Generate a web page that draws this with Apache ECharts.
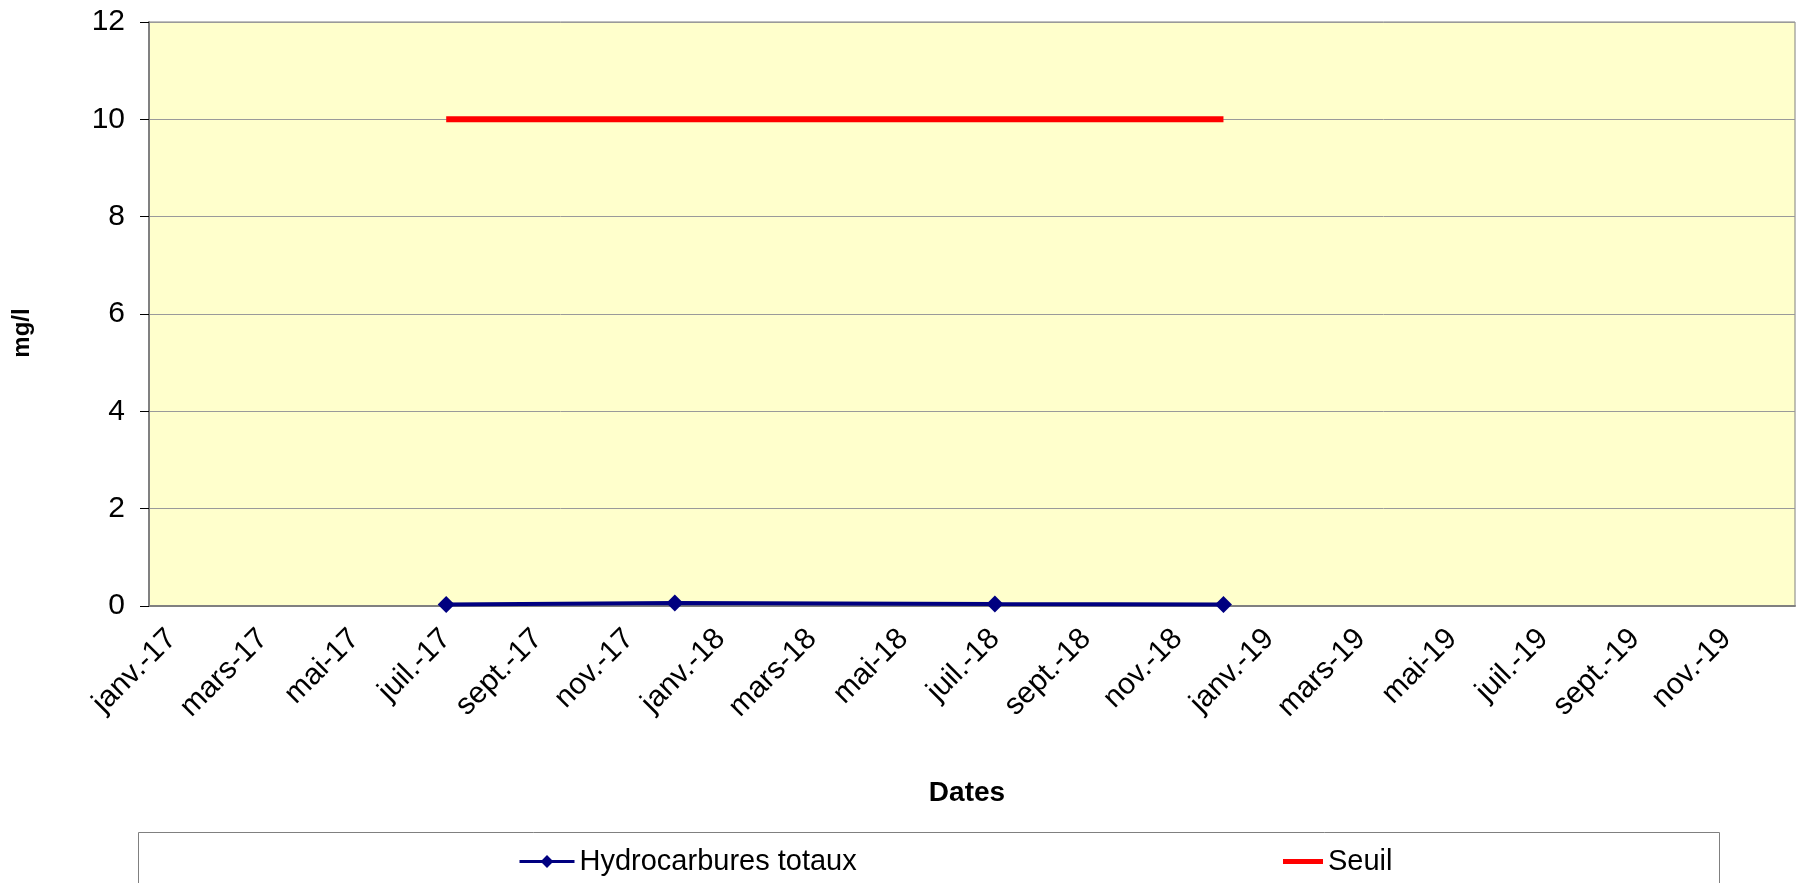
<!DOCTYPE html>
<html>
<head>
<meta charset="utf-8">
<title>Hydrocarbures totaux</title>
<script src="https://cdn.jsdelivr.net/npm/echarts@6/dist/echarts.min.js"></script>
<style>
  html, body { margin: 0; padding: 0; background: #fff; }
  #main { width: 1800px; height: 883px; }
</style>
</head>
<body>
<div id="main"></div>
<script>
// axe des dates : un mois par case
var months = ['janv.', 'févr.', 'mars', 'avr.', 'mai', 'juin', 'juil.', 'août', 'sept.', 'oct.', 'nov.', 'déc.'];
var years = ['17', '18', '19'];
var categories = [];
for (var y = 0; y < years.length; y++) {
  for (var m = 0; m < months.length; m++) {
    categories.push(months[m] + '-' + years[y]);
  }
}

// mesures
var hcDates = ['juil.-17', 'déc.-17', 'juil.-18', 'déc.-18'];
var hcValues = [0.03, 0.06, 0.04, 0.03];

// seuil
var seuilDates = ['juil.-17', 'déc.-18'];
var seuilValues = [10, 10];

var yTicks = [0, 2, 4, 6, 8, 10, 12];

var font = 'Liberation Sans, Arial, sans-serif';

function pairs(xs, vs) {
  var out = [];
  for (var i = 0; i < xs.length; i++) out.push([xs[i], vs[i]]);
  return out;
}

var myChart = echarts.init(document.getElementById('main'));

var option = {
  animation: false,
  textStyle: { fontFamily: font },
  grid: {
    left: 149, right: 5, top: 22, bottom: 277,
    show: true,
    backgroundColor: '#FFFFCC',
    borderColor: '#808080',
    borderWidth: 1
  },
  xAxis: {
    type: 'category',
    data: categories,
    boundaryGap: true,
    axisLine: { lineStyle: { color: '#808080', width: 2 } },
    axisTick: { interval: 0, length: 9, lineStyle: { color: '#000' } },
    axisLabel: {
      interval: 1,
      rotate: 45,
      margin: 28,
      color: '#000',
      fontSize: 30,
      fontFamily: font
    },
    splitLine: { show: false }
  },
  yAxis: {
    type: 'value',
    min: yTicks[0],
    max: yTicks[yTicks.length - 1],
    interval: 2,
    axisLine: { show: true, lineStyle: { color: '#808080', width: 2 } },
    axisTick: { show: true, length: 9, lineStyle: { color: '#000' } },
    axisLabel: { margin: 24, color: '#000', fontSize: 30, fontFamily: font },
    splitLine: { lineStyle: { color: '#9a9a9a', width: 1 } }
  },
  legend: [
    {
      left: 513,
      top: 842,
      itemWidth: 55,
      itemHeight: 16,
      lineStyle: { width: 3 },
      textStyle: { fontSize: 29, color: '#000', fontFamily: font },
      data: ['Hydrocarbures totaux']
    },
    {
      left: 1278,
      top: 842,
      itemWidth: 40,
      itemHeight: 5,
      icon: 'rect',
      textStyle: { fontSize: 29, color: '#000', fontFamily: font },
      data: ['Seuil']
    }
  ],
  graphic: [
    {
      type: 'rect',
      shape: { x: 138.5, y: 832.5, width: 1581, height: 80 },
      style: { fill: '#fff', stroke: '#808080', lineWidth: 1 },
      z: -1
    },
    {
      type: 'text',
      x: 967,
      y: 793,
      style: {
        text: 'Dates',
        font: 'bold 28px ' + font,
        fill: '#000',
        align: 'center',
        verticalAlign: 'middle'
      }
    },
    {
      type: 'text',
      x: 22,
      y: 333,
      rotation: Math.PI / 2,
      style: {
        text: 'mg/l',
        font: 'bold 24px ' + font,
        fill: '#000',
        align: 'center',
        verticalAlign: 'middle'
      }
    }
  ],
  series: [
    {
      name: 'Hydrocarbures totaux',
      type: 'line',
      data: pairs(hcDates, hcValues),
      color: '#000080',
      symbol: 'diamond',
      symbolSize: 17,
      lineStyle: { color: '#000080', width: 4 },
      itemStyle: { color: '#000080' },
      z: 3
    },
    {
      name: 'Seuil',
      type: 'line',
      data: pairs(seuilDates, seuilValues),
      color: '#FF0000',
      symbol: 'none',
      lineStyle: { color: '#FF0000', width: 6 },
      z: 2
    }
  ]
};

myChart.setOption(option);
</script>
</body>
</html>
